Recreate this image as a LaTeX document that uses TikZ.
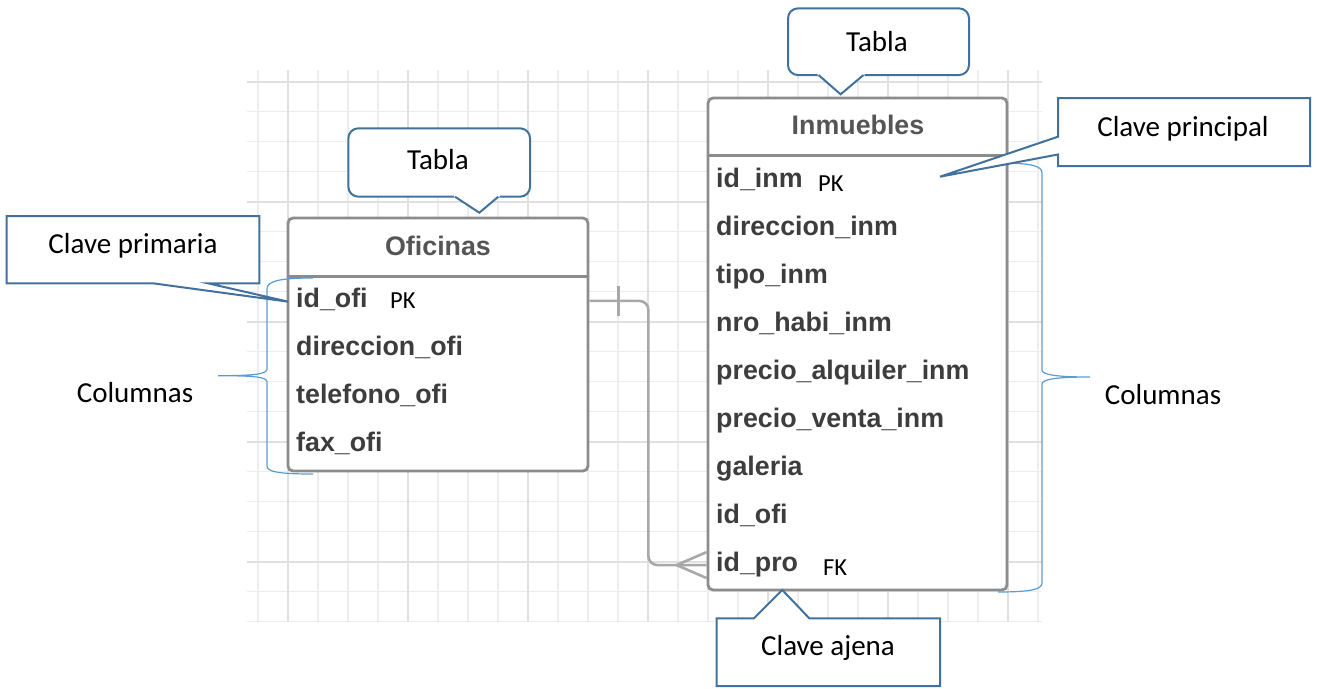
\documentclass[tikz,border=0pt]{standalone}
\usepackage{fontspec}
\setmainfont{Carlito}
\newfontfamily\erfont{Liberation Sans}
\definecolor{gridc}{HTML}{EDEDED}
\definecolor{gridt}{HTML}{E0E0E0}
\definecolor{tborder}{HTML}{8C8C8C}
\definecolor{headc}{HTML}{555555}
\definecolor{rowc}{HTML}{3D3D3D}
\definecolor{connc}{HTML}{A8A8A8}
\definecolor{callc}{HTML}{41719C}
\definecolor{bracec}{HTML}{5B9BD5}
\begin{document}
\begin{tikzpicture}[x=1pt,y=-1pt,
  gridline/.style={draw=gridc, line width=1.3pt},
  gridthick/.style={draw=gridt, line width=1.6pt},
  tablebox/.style={draw=tborder, fill=white, line width=2.8pt, rounded corners=5pt, inner sep=0pt},
  tsep/.style={draw=tborder, line width=2.8pt},
  headtxt/.style={font=\erfont\bfseries\fontsize{26.8}{32}\selectfont, text=headc, inner sep=0pt},
  rowtxt/.style={font=\erfont\bfseries\fontsize{26.8}{32}\selectfont, text=rowc, inner sep=0pt, anchor=base west},
  keytxt/.style={font=\fontsize{24.5}{29}\selectfont, text=black, inner sep=0pt, anchor=base west},
  conn/.style={draw=connc, line width=2.6pt},
  callout/.style={draw=callc, fill=white, line width=2pt, line join=miter},
  roundcall/.style={draw=callc, fill=white, line width=2pt, rounded corners=10pt, inner sep=0pt},
  calltxt/.style={font=\fontsize{29}{35}\selectfont, text=black, inner sep=0pt},
  bracel/.style={draw=bracec, line width=1.2pt}
]
\useasboundingbox (0,0) rectangle (1317,688);
% grid
\foreach \i in {0,...,26} {
  \pgfmathsetmacro\xx{258+30*\i}
  \draw[gridline] (\xx,70) -- (\xx,622);
}
\foreach \i in {0,...,18} {
  \pgfmathsetmacro\yy{81.7+30*\i}
  \draw[gridline] (247,\yy) -- (1042,\yy);
}
\foreach \xx in {288,408,528,648,768,888,1008} {
  \draw[gridthick] (\xx,70) -- (\xx,622);
}
\foreach \yy in {81.7,201.7,321.7,441.7,561.7} {
  \draw[gridthick] (247,\yy) -- (1042,\yy);
}
% Oficinas table
\node[tablebox, minimum width=300pt, minimum height=253pt] (ofi) at (438,344.5) {};
\draw[tsep] ([yshift=-60pt]ofi.north west) -- ([yshift=-60pt]ofi.north east);
\node[headtxt] (ofiT) at (438,246) {Oficinas};
\node[rowtxt] (o1) at (296,307) {id\_ofi};
\node[rowtxt] (o2) at (296,355) {direccion\_ofi};
\node[rowtxt] (o3) at (296,403) {telefono\_ofi};
\node[rowtxt] (o4) at (296,451) {fax\_ofi};
\node[keytxt] (opk) at (390,308) {PK};
% Inmuebles table
\node[tablebox, minimum width=299pt, minimum height=492pt] (inm) at (857.5,344) {};
\draw[tsep] ([yshift=-59pt]inm.north west) -- ([yshift=-59pt]inm.north east);
\node[headtxt] (inmT) at (858,125) {Inmuebles};
\node[rowtxt] (i1) at (716,187) {id\_inm};
\node[rowtxt] (i2) at (716,235) {direccion\_inm};
\node[rowtxt] (i3) at (716,283) {tipo\_inm};
\node[rowtxt] (i4) at (716,331) {nro\_habi\_inm};
\node[rowtxt] (i5) at (716,379) {precio\_alquiler\_inm};
\node[rowtxt] (i6) at (716,427) {precio\_venta\_inm};
\node[rowtxt] (i7) at (716,475) {galeria};
\node[rowtxt] (i8) at (716,523) {id\_ofi};
\node[rowtxt] (i9) at (716,571) {id\_pro};
\node[keytxt] (ipk) at (818,191.5) {PK};
\node[keytxt] (ifk) at (823,575) {FK};
% relationship connector
\coordinate (ofiPK) at ([yshift=-2pt]ofi.east |- o1);
\coordinate (inmFK) at ([yshift=-1pt]inm.west |- i9);
\draw[conn, rounded corners=9pt] (ofiPK) -- ++(59,0) |- (inmFK);
\draw[conn] ([xshift=29pt,yshift=15pt]ofiPK) -- ([xshift=29pt,yshift=-15pt]ofiPK);
\draw[conn] ([xshift=-30pt]inmFK) -- ([yshift=13pt]inmFK);
\draw[conn] ([xshift=-30pt]inmFK) -- ([yshift=-13pt]inmFK);
% braces
\draw[bracel] (313,278) .. controls (280,278) and (267,281) .. (267,289)
  -- (267,369) .. controls (267,374) and (255,375.7) .. (218,375.7)
  .. controls (255,375.7) and (267,377) .. (267,382)
  -- (267,466) .. controls (267,472) and (280,474) .. (313,474);
\draw[bracel] (998,163) .. controls (1032,163) and (1042,166) .. (1042,173)
  -- (1042,370) .. controls (1042,375) and (1058,377) .. (1090,377)
  .. controls (1058,377) and (1042,379) .. (1042,384)
  -- (1042,583) .. controls (1042,589) and (1032,592) .. (998,592);
\node[calltxt] (colL) at (135,393) {Columnas};
\node[calltxt] (colR) at (1163,395) {Columnas};
% Tabla callouts (rounded)
\node[roundcall, minimum width=181.7pt, minimum height=68.4pt] (tab1) at (439.2,162.5) {};
\fill[white] (454,194) -- (499.5,194) -- (499.5,197) -- (479.3,212.7) -- (454,197) -- cycle;
\draw[callc, line width=2pt] (455,196.7) -- (479.3,212.7) -- (498.3,196.7);
\node[calltxt] (tab1t) at (438,160) {Tabla};
\node[roundcall, minimum width=181pt, minimum height=66.7pt] (tab2) at (878.5,41.7) {};
\fill[white] (817.5,72.5) -- (864.5,72.5) -- (864.5,75.5) -- (840.6,94.3) -- (817.5,75.5) -- cycle;
\draw[callc, line width=2pt] (818.5,75) -- (840.6,94.3) -- (863.5,75);
\node[calltxt] (tab2t) at (877,42) {Tabla};
% Clave primaria
\draw[callout] (6.7,216) -- (259.3,216) -- (259.3,283.3) -- (208,283.3) -- (288.3,301.7) -- (153,283.3) -- (6.7,283.3) -- cycle;
\node[calltxt] (cpri) at (133,246) {Clave primaria};
% Clave principal
\draw[callout] (1058,98) -- (1310,98) -- (1310,166) -- (1058,166) -- (1058,154.5) -- (940,176.7) -- (1058,136.7) -- cycle;
\node[calltxt] (cprin) at (1183,129) {Clave principal};
% Clave ajena
\draw[callout] (716.7,618.3) -- (754,618.3) -- (782.3,590) -- (809.3,618.3) -- (940,618.3) -- (940,686) -- (716.7,686) -- cycle;
\node[calltxt] (caj) at (828,648) {Clave ajena};
\end{tikzpicture}
\end{document}
